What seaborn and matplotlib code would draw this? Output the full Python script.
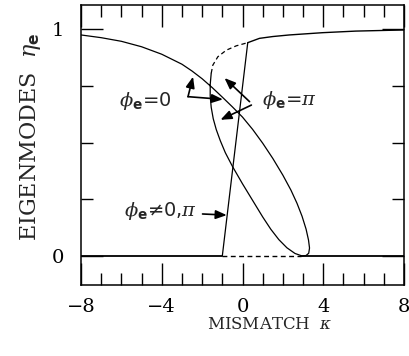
import matplotlib
matplotlib.use("Agg")
import matplotlib.pyplot as plt
from matplotlib.ticker import FixedLocator, MultipleLocator
import seaborn as sns

# phi_e = 0 branch: left wing falling to the fold near kappa ~ 3, then back up the inner side
kappa_phi0 = [-8.0, -7.0, -6.0, -5.0, -4.0, -3.0, -2.5, -2.0, -1.5, -1.0,
              -0.5, 0.0, 0.5, 1.0, 1.5, 2.0, 2.4, 2.7, 2.95, 3.15,
              3.27, 3.32, 3.28, 3.15, 2.95, 2.6, 2.2, 1.8, 1.4, 1.0,
              0.5, 0.0, -0.5, -0.85, -1.1, -1.3, -1.45, -1.55, -1.6, -1.6,
              -1.55]
eta_phi0 = [0.974, 0.962, 0.946, 0.922, 0.889, 0.845, 0.815, 0.781, 0.742, 0.700,
            0.657, 0.612, 0.558, 0.497, 0.430, 0.356, 0.290, 0.232, 0.175, 0.118,
            0.070, 0.035, 0.012, 0.002, 0.000, 0.011, 0.036, 0.072, 0.118, 0.172,
            0.245, 0.318, 0.395, 0.455, 0.508, 0.557, 0.605, 0.655, 0.705, 0.755,
            0.805]

# unstable part joining the two branches
kappa_unstable = [-1.55, -1.47, -1.22, -0.80, -0.31, 0.26]
eta_unstable = [0.805, 0.841, 0.878, 0.907, 0.926, 0.940]

# phi_e = pi branch on the right
kappa_phipi = [0.26, 0.84, 1.5, 2.32, 3.97, 5.61, 8.0]
eta_phipi = [0.940, 0.959, 0.967, 0.974, 0.984, 0.991, 0.996]

# phi_e != 0, pi mode
kappa_mixed = [-1.0, 0.26]
eta_mixed = [0.0, 0.94]

# trivial eigenmode eta = 0: stable / unstable / stable
kappa_zero_left = [-8.0, -1.0]
kappa_zero_mid = [-1.0, 2.9]
kappa_zero_right = [2.9, 8.0]
eta_zero = [0.0, 0.0]

x_major = [-8, -4, 0, 4, 8]
y_major = [0, 1]
y_minor = [0.25, 0.5, 0.75]
y_ticklabels = ["0", "1"]

sns.set_theme(style="ticks")
plt.rcParams.update({
    "font.family": ["DejaVu Serif"],
    "mathtext.fontset": "custom",
    "mathtext.it": "DejaVu Serif:italic",
    "mathtext.rm": "DejaVu Sans:bold",
    "mathtext.bf": "DejaVu Sans:bold",
    "axes.edgecolor": "black",
    "axes.linewidth": 1.1,
    "xtick.color": "black",
    "ytick.color": "black",
})

fig = plt.figure(figsize=(4.09, 3.56), dpi=100)
ax = fig.add_axes([81 / 409, 71 / 356, 323 / 409, 280 / 356])

line_kw = dict(color="black", sort=False, estimator=None, ax=ax, legend=False)
dash = (0, (3.5, 2.5))

sns.lineplot(x=kappa_phi0, y=eta_phi0, lw=0.9, **line_kw)
sns.lineplot(x=kappa_unstable, y=eta_unstable, lw=0.9, linestyle=dash, **line_kw)
sns.lineplot(x=kappa_phipi, y=eta_phipi, lw=1.0, **line_kw)
sns.lineplot(x=kappa_mixed, y=eta_mixed, lw=0.9, **line_kw)
sns.lineplot(x=kappa_zero_left, y=eta_zero, lw=1.3, **line_kw)
sns.lineplot(x=kappa_zero_mid, y=eta_zero, lw=1.0, linestyle=dash, **line_kw)
sns.lineplot(x=kappa_zero_right, y=eta_zero, lw=1.3, **line_kw)

ax.set_xlim(-8, 8)
ax.set_ylim(-0.128, 1.106)

ax.xaxis.set_major_locator(FixedLocator(x_major))
ax.xaxis.set_minor_locator(MultipleLocator(1))
ax.yaxis.set_major_locator(FixedLocator(y_major))
ax.yaxis.set_minor_locator(FixedLocator(y_minor))
ax.set_yticklabels(y_ticklabels)

ax.tick_params(which="both", direction="in", top=True, right=True,
               width=1.0, labelsize=14)
ax.tick_params(which="major", length=16)
ax.tick_params(which="minor", length=8.5)
ax.tick_params(axis="x", which="major", pad=9)
ax.tick_params(axis="y", which="major", pad=12)

ax.set_xlabel(r"MISMATCH  $\kappa$", fontsize=12)
ax.set_ylabel(r"EIGENMODES  $\eta_{\mathrm{e}}$", fontsize=16)
ax.xaxis.set_label_coords(0.585, -0.112)
ax.yaxis.set_label_coords(-0.118, 0.53)

# annotations with arrows
arrow = dict(arrowstyle="-|>,head_length=0.55,head_width=0.22", color="black",
             lw=1.2, shrinkA=0, shrinkB=0)
txt_kw = dict(fontsize=14, family=["DejaVu Sans"], ha="center", va="center")

ax.text(-4.8, 0.683, r"$\phi_{\mathrm{e}}$=0", **txt_kw)
ax.annotate("", xy=(-2.45, 0.79), xytext=(-2.70, 0.702), arrowprops=arrow)
ax.annotate("", xy=(-0.97, 0.69), xytext=(-2.70, 0.702), arrowprops=arrow)

ax.text(2.32, 0.687, r"$\phi_{\mathrm{e}}$=$\pi$", **txt_kw)
ax.annotate("", xy=(-0.89, 0.784), xytext=(0.35, 0.68), arrowprops=arrow)
ax.annotate("", xy=(-1.09, 0.60), xytext=(0.44, 0.665), arrowprops=arrow)

ax.text(-4.05, 0.198, r"$\phi_{\mathrm{e}}$≠0,$\pi$", **txt_kw)
ax.annotate("", xy=(-0.78, 0.18), xytext=(-1.98, 0.185), arrowprops=arrow)

fig.savefig("out.png", dpi=100)
